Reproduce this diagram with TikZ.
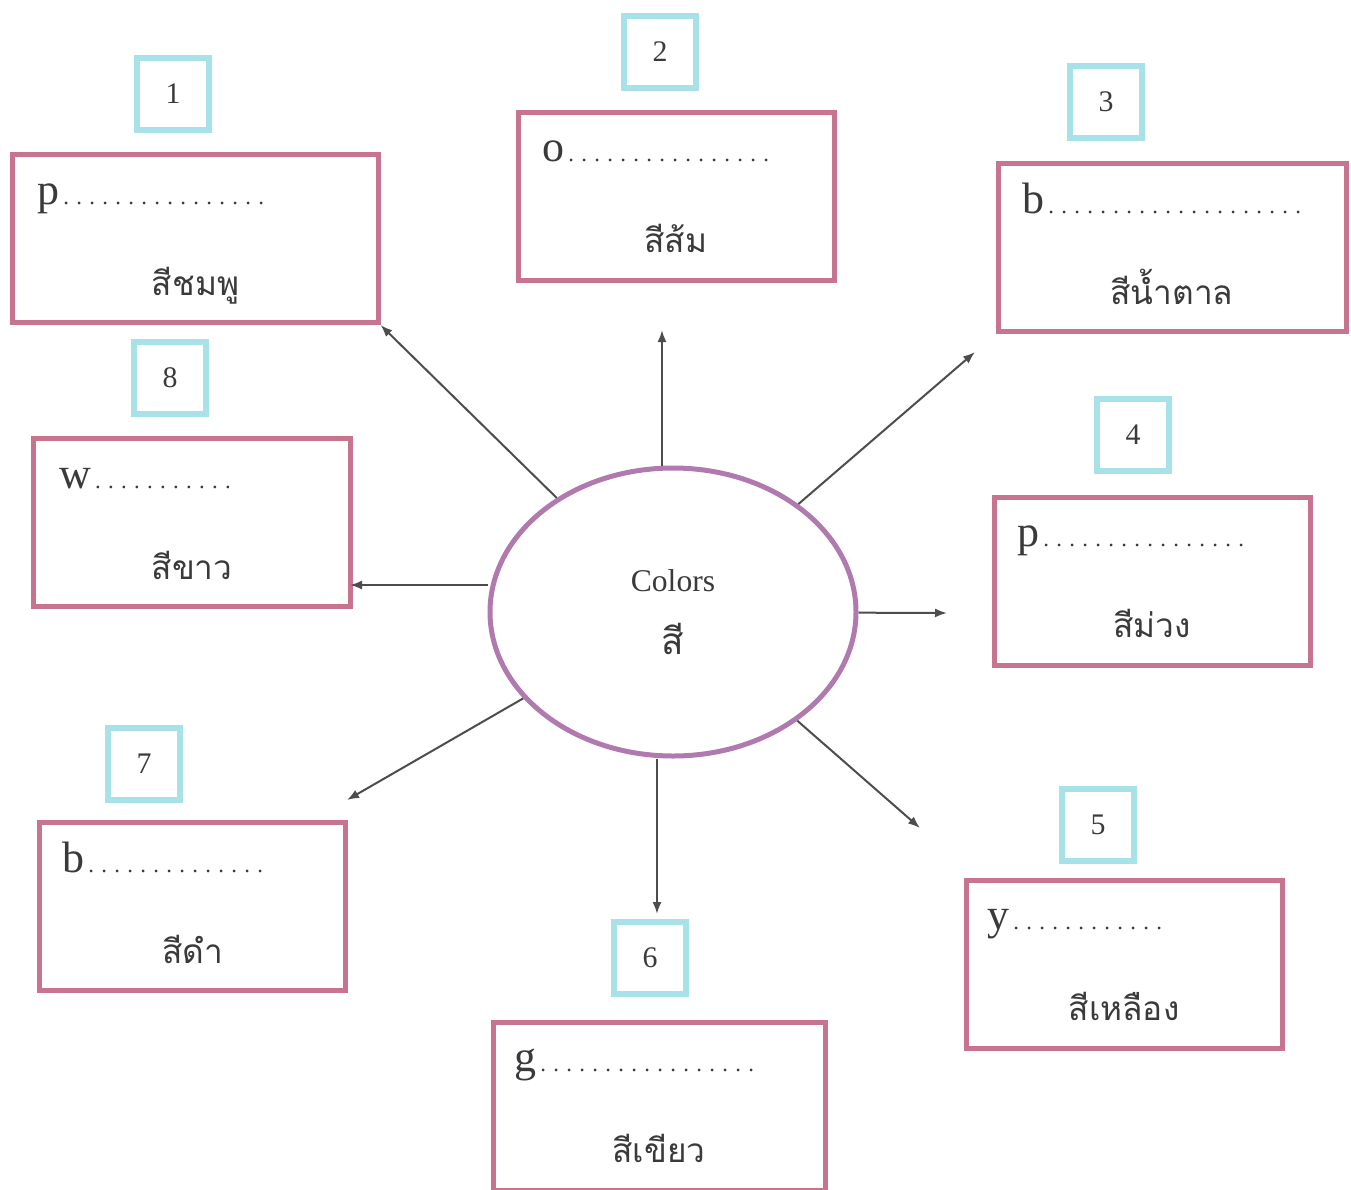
\documentclass[tikz,border=0pt]{standalone}
\usepackage{fontspec}
\setmainfont{Liberation Serif}
\newfontfamily\thaifont[Script=Thai]{Loma}
\usetikzlibrary{arrows.meta, positioning, shapes.geometric, calc}
\definecolor{ink}{HTML}{3A3A3A}
\definecolor{wire}{HTML}{4D4D4D}
\definecolor{rose}{HTML}{C9748E}
\definecolor{aqua}{HTML}{A6E2E8}
\definecolor{plum}{HTML}{B07AAE}
\newcommand{\answerline}[1]{{\fontsize{13}{15}\selectfont\makebox[#1]{\leaders\hbox to 2.6mm{\hss.\hss}\hfill}}}
\tikzset{
  wbox/.style={draw=rose, line width=1mm, minimum height=33.6mm, inner sep=0pt},
  nbox/.style={draw=aqua, line width=1.2mm, minimum size=14.4mm, inner sep=0pt,
               font=\fontsize{17}{20}\selectfont, text=ink},
  hint/.style={anchor=base west, inner sep=0pt, font=\fontsize{25}{30}\selectfont, text=ink},
  thai/.style={anchor=base, inner sep=0pt, font=\thaifont\fontsize{19}{24}\selectfont, text=ink},
  hub/.style={ellipse, draw=plum, line width=1mm, minimum width=73.2mm, minimum height=57.6mm,
              align=center, text=ink},
  fl/.style={-{Latex[length=2.4mm, width=1.8mm]}, line width=0.4mm, draw=wire},
}
\begin{document}
\begin{tikzpicture}[x=0.2mm, y=-0.2mm]
    \useasboundingbox (0,0) rectangle (1351,1189);
    % centre
    \node[hub] (e) at (673,612) {\fontsize{18}{22}\selectfont Colors\\[6mm]{\thaifont\fontsize{21}{24}\selectfont สี}};
    % answer boxes
    \node[wbox, minimum width=73mm] (b1) at (195.5,238.5) {};
    \node[wbox, minimum width=63.2mm] (b2) at (676,196) {};
    \node[wbox, minimum width=69.6mm] (b3) at (1172,247.5) {};
    \node[wbox, minimum width=63.2mm] (b4) at (1152,581) {};
    \node[wbox, minimum width=63.2mm] (b5) at (1124,964) {};
    \node[wbox, minimum width=66.4mm] (b6) at (659,1106) {};
    \node[wbox, minimum width=61mm] (b7) at (192.5,906.5) {};
    \node[wbox, minimum width=63.2mm] (b8) at (192,522.5) {};
    % numbers
    \node[nbox] (n1) at (173,93.5) {1};
    \node[nbox] (n2) at (660,52) {2};
    \node[nbox] (n3) at (1106,102) {3};
    \node[nbox] (n4) at (1133,435) {4};
    \node[nbox] (n5) at (1098,825) {5};
    \node[nbox] (n6) at (650,958) {6};
    \node[nbox] (n7) at (144,764) {7};
    \node[nbox] (n8) at (170,378) {8};
    % first letters
    \node[hint] (h1) at ([xshift=5.4mm, yshift=-10.4mm]b1.north west) {p\answerline{44mm}};
    \node[hint] (h2) at ([xshift=5.4mm, yshift=-10.4mm]b2.north west) {o\answerline{44mm}};
    \node[hint] (h3) at ([xshift=5.4mm, yshift=-10.4mm]b3.north west) {b\answerline{52mm}};
    \node[hint] (h4) at ([xshift=5.2mm, yshift=-10.4mm]b4.north west) {p\answerline{44mm}};
    \node[hint] (h5) at ([xshift=4.8mm, yshift=-10.4mm]b5.north west) {y\answerline{33mm}};
    \node[hint] (h6) at ([xshift=4.8mm, yshift=-10.4mm]b6.north west) {g\answerline{46mm}};
    \node[hint] (h7) at ([xshift=5mm, yshift=-10.4mm]b7.north west) {b\answerline{37mm}};
    \node[hint] (h8) at ([xshift=5.6mm, yshift=-10.4mm]b8.north west) {w\answerline{30mm}};
    % thai words
    \node[thai] (t1) at ([yshift=-28.6mm]b1.north) {สีชมพู};
    \node[thai] (t2) at ([yshift=-28.6mm]b2.north) {สีส้ม};
    \node[thai] (t3) at ([yshift=-28.6mm]b3.north) {สีน้ำตาล};
    \node[thai] (t4) at ([yshift=-28.6mm]b4.north) {สีม่วง};
    \node[thai] (t5) at ([yshift=-28.6mm]b5.north) {สีเหลือง};
    \node[thai] (t6) at ([yshift=-28.6mm]b6.north) {สีเขียว};
    \node[thai] (t7) at ([yshift=-28.6mm]b7.north) {สีดำ};
    \node[thai] (t8) at ([yshift=-28.6mm]b8.north) {สีขาว};
    % arrows
    \coordinate (a2) at (662,330);
    \coordinate (a3) at (975,352);
    \coordinate (a4) at (947,613);
    \coordinate (a5) at (920,828);
    \coordinate (a6) at (657,914);
    \coordinate (a7) at (347,800);
    \coordinate (a8) at (350,585);
    \draw[fl] (e) -- (b1.south east);
    \draw[fl] (a2 |- e.north) -- (a2);
    \draw[fl] (e) -- (a3);
    \draw[fl] (e) -- (a4);
    \draw[fl] (e) -- (a5);
    \draw[fl] (a6 |- e.south) -- (a6);
    \draw[fl] (e) -- (a7);
    \draw[fl] (e.west |- a8) -- (a8);
  \end{tikzpicture}
\end{document}
